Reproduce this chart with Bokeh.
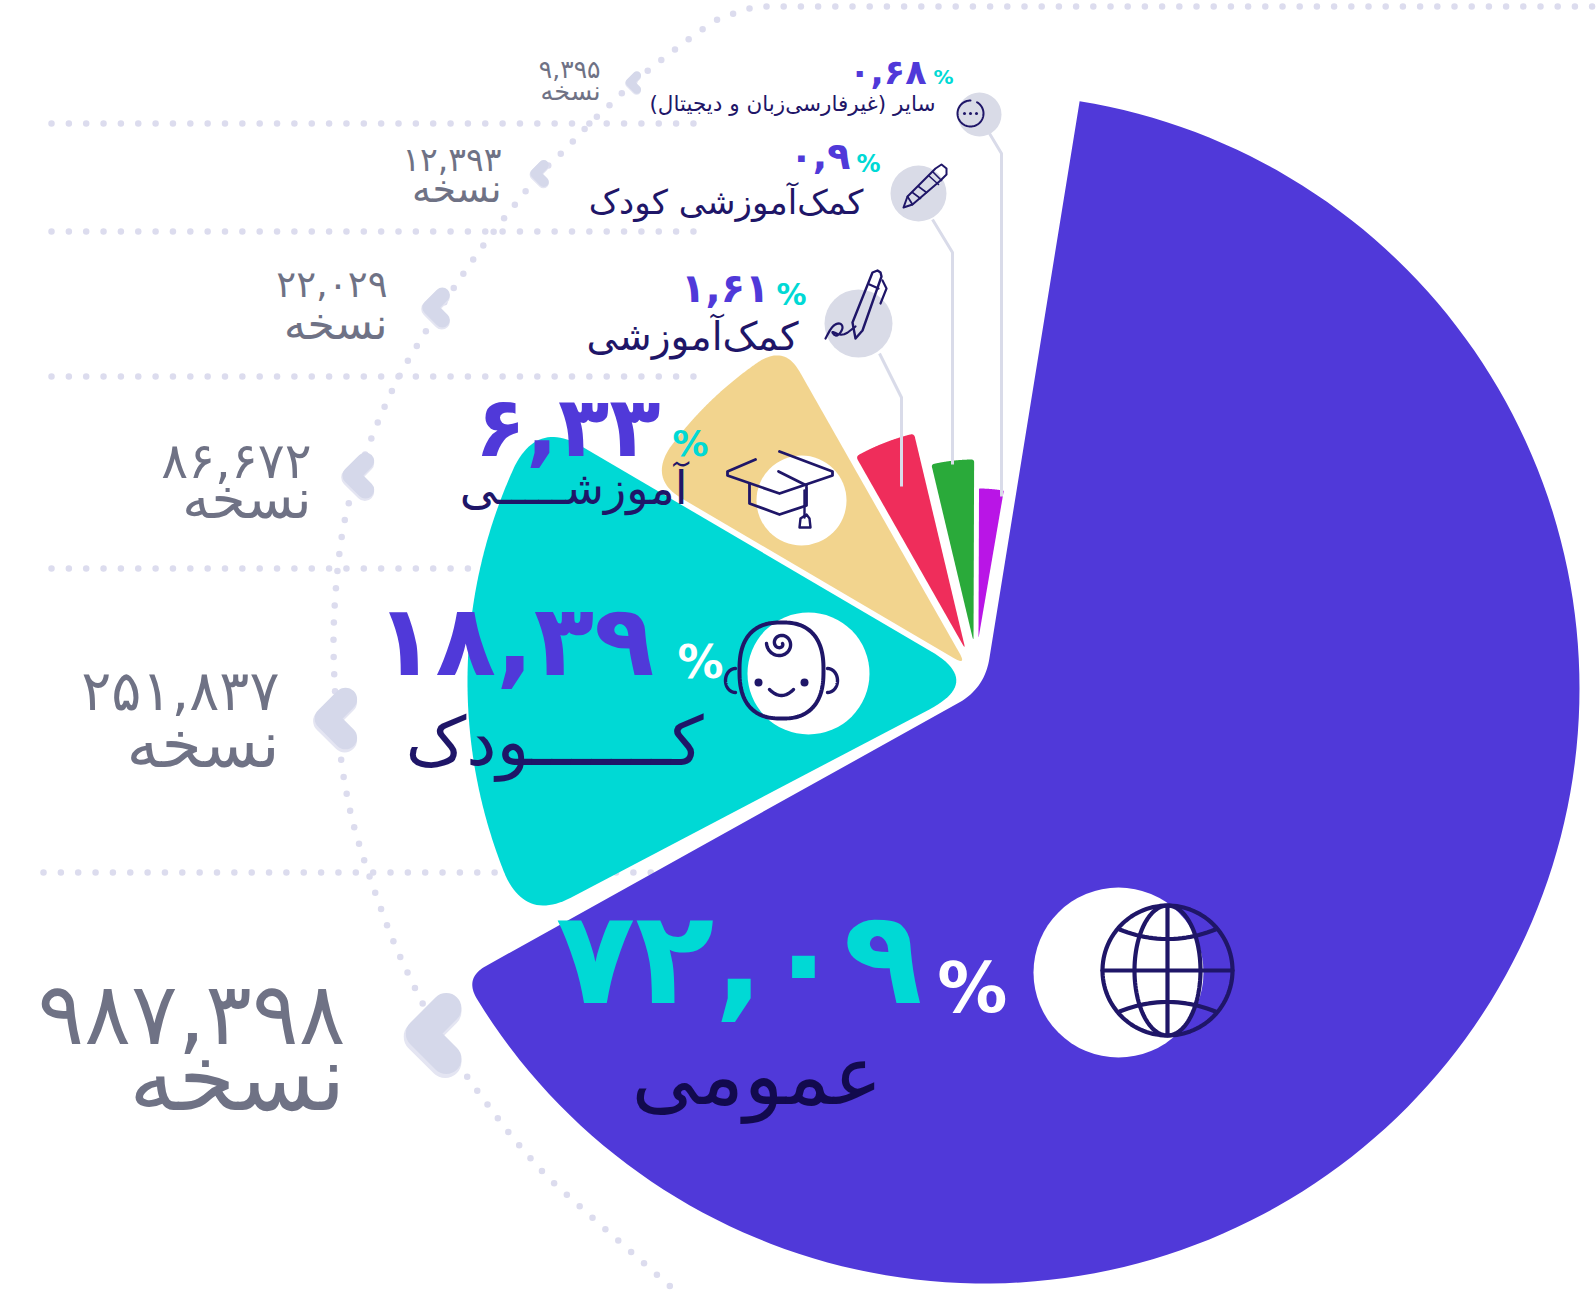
import numpy as np
from bokeh.plotting import figure
from bokeh.embed import file_html
from bokeh.resources import INLINE
from bokeh.core.properties import value

# ---- data ----
categories = ["عمومی", "کـــــــودک", "آموزشـــــی", "کمک\u200cآموزشی", "کمک\u200cآموزشی کودک", "سایر (غیرفارسی\u200cزبان و دیجیتال)\u200f"]
shares = [72.09, 18.39, 6.33, 1.61, 0.9, 0.68]
copies = [987398, 251837, 86672, 22029, 12393, 9395]
slice_colors = ["#5039d9", "#00d9d5", "#f2d48e", "#ef2d5b", "#2aaa3a", "#b915e6"]

# The drawing is not to scale: it widens the small slices. Sweep and radius as read.
sweep_deg = [231.7, 58.1, 30.0, 16.2, 13.6, 9.5]
gap_before_deg = [0, 1.4, 0, 0, 0, 0]
radius_px = [595, 515, 368, 222, 182, 150]
offset_px = [(0, 0), (-2, -7), (-18, -23), (-19, -39), (-11, -47), (-6, -50)]
tip_round = [30, 60, 14, 6, 5, 3]
corner_round = [(0, 24), (50, 50), (38, 30), (4, 4), (3, 3), (1, 1)]
start_deg = 9.2
hub = (984.0, 688.0)

FONT = value("DejaVu Sans")
DOT = "#dcdcee"
CHEV = "#d5d8ea"
CHEV2 = "#e4e5f2"
LINE = "#d9dbe9"
INK = "#1f1668"
GREY = "#6f7285"
PURPLE = slice_colors[0]
TEAL = slice_colors[1]

FA = str.maketrans("0123456789", "۰۱۲۳۴۵۶۷۸۹")
def fa(s):
    return str(s).translate(FA)

p = figure(width=1596, height=1295, x_range=(0, 1596), y_range=(1295, 0),
           toolbar_location=None, output_backend="svg", min_border=0,
           outline_line_color=None,
           background_fill_color="white", border_fill_color="white")
p.axis.visible = False
p.grid.visible = False


def u(a):
    r = np.radians(a)
    return np.array([np.sin(r), -np.cos(r)])

def bez(a, c, b, n=24):
    t = np.linspace(0, 1, n)[:, None]
    return (1 - t) ** 2 * a + 2 * t * (1 - t) * c + t ** 2 * b

def wedge(apex, a0, a1, R, tip, r0, r1):
    A = np.array(apex)
    parts = []
    parts.append(bez(A + tip * u(a1), A, A + tip * u(a0)))
    E0 = A + R * u(a0)
    E1 = A + R * u(a1)
    d0 = np.degrees(r0 / R)
    d1 = np.degrees(r1 / R)
    if r0 > 0:
        parts.append(bez(E0 - r0 * u(a0), E0, A + R * u(a0 + d0)))
    aa = np.linspace(a0 + d0, a1 - d1, 160)
    parts.append(np.array([A + R * u(x) for x in aa]))
    if r1 > 0:
        parts.append(bez(A + R * u(a1 - d1), E1, E1 - r1 * u(a1)))
    return np.vstack(parts)

def chaikin(pts, n=3):
    pts = np.array(pts, float)
    for _ in range(n):
        q = 0.75 * pts[:-1] + 0.25 * pts[1:]
        r = 0.25 * pts[:-1] + 0.75 * pts[1:]
        mid = np.empty((2 * len(q), 2))
        mid[0::2] = q
        mid[1::2] = r
        pts = np.vstack([pts[0], mid, pts[-1]])
    return pts

def resample(pts, step):
    d = np.r_[0, np.cumsum(np.hypot(*np.diff(pts, axis=0).T))]
    s = np.arange(0, d[-1], step)
    return np.interp(s, d, pts[:, 0]), np.interp(s, d, pts[:, 1])


# ---- dotted guides ----
def dots(x, y):
    p.scatter(x, y, size=6.5, marker="circle", fill_color=DOT, line_color=None)

row_y = [123, 231, 376, 568, 872]
row_x = [(51, 701), (51, 701), (51, 701), (51, 480), (43, 655)]
for yy, (x0, x1) in zip(row_y, row_x):
    xs = np.arange(x0, x1, 17.35)
    dots(xs, np.full(len(xs), yy))
xs = np.arange(766, 1596, 17.2)
dots(xs, np.full(len(xs), 6))

guide = [(749, 8), (733, 13), (716, 19), (703, 28), (689, 38), (676, 48), (664, 57), (650, 68),
         (632, 82), (612, 102), (588, 124), (564, 150), (539, 173), (518, 200), (507, 213),
         (470, 262), (435, 315), (392, 385), (356, 475), (341, 529), (333, 611), (333, 672),
         (339, 753), (350, 815), (362, 855), (373, 888), (391, 937), (405, 968), (420, 999),
         (440, 1037), (464, 1073), (495, 1115), (516, 1142), (539, 1168), (551, 1181), (672, 1288)]
gx, gy = resample(chaikin(guide, 2), 17.2)
dots(gx, gy)

# ---- slices ----
angle = start_deg
for i, share in enumerate(shares):
    angle += gap_before_deg[i]
    a0, a1 = angle, angle + sweep_deg[i]
    angle = a1
    apex = np.array(hub) + np.array(offset_px[i])
    shape = wedge(apex, a0, a1, radius_px[i], tip_round[i], *corner_round[i])
    p.patch(shape[:, 0], shape[:, 1], fill_color=slice_colors[i], line_color=None)

# ---- white discs ----
p.ellipse(x=[1118, 808, 801], y=[972, 673, 500], width=[170, 122, 90], height=[170, 122, 90],
          fill_color="white", line_color=None)

# ---- connector lines and grey discs ----
conn = [[(879, 353), (901, 397), (901, 486)],
        [(932, 219), (952, 252), (952, 464)],
        [(989, 133), (1001, 153), (1001, 496)]]
for c in conn:
    c = np.array(c)
    p.line(c[:, 0], c[:, 1], line_color=LINE, line_width=3)
p.ellipse(x=[858, 918, 979], y=[323, 193, 114], width=[68, 56, 44], height=[68, 56, 44],
          fill_color="#d9dbe7", line_color=None)

# ---- chevrons ----
chev = [(430, 1033, 1.05), (333, 718, .8), (356, 475, .6), (434, 307, .52), (538, 173, .35), (632, 82, .29)]
for cx, cy, s in chev:
    w = 29 * s
    ax = cx - 9 * s
    xx = np.array([ax + 24 * s, ax, ax + 24 * s])
    yy = np.array([cy - 24 * s, cy, cy + 24 * s])
    p.line(xx - 1 * s, yy + 3 * s, line_color=CHEV2, line_width=w + 2 * s, line_cap="round", line_join="round")
    p.line(xx, yy, line_color=CHEV, line_width=w, line_cap="round", line_join="round")


# ---- icons ----
def ink(pts, w=3.0, color=INK):
    pts = np.array(pts, float)
    p.line(pts[:, 0], pts[:, 1], line_color=color, line_width=w, line_cap="round", line_join="round")

def ell(cx, cy, a, b, t0=0.0, t1=360.0, n=120):
    t = np.radians(np.linspace(t0, t1, n))
    return np.c_[cx + a * np.cos(t), cy + b * np.sin(t)]

# globe
gcx, gcy, gr = 1167, 970, 65
ink(ell(gcx, gcy, gr, gr), 4.2)
ink(ell(gcx, gcy, 33, gr), 4.2)
ink([(gcx, gcy - gr), (gcx, gcy + gr)], 4.2)
ink([(gcx - gr, gcy), (gcx + gr, gcy)], 4.2)
ink(bez(np.array([gcx - 48., gcy - 41]), np.array([gcx, gcy - 22.]), np.array([gcx + 48., gcy - 41])), 4.2)
ink(bez(np.array([gcx - 48., gcy + 41]), np.array([gcx, gcy + 22.]), np.array([gcx + 48., gcy + 41])), 4.2)

# baby
bcx, bcy = 781, 670
t = np.radians(np.linspace(0, 360, 140))
ink(np.c_[bcx + 42 * np.sign(np.cos(t)) * np.abs(np.cos(t)) ** .8,
          bcy + 48 * np.sign(np.sin(t)) * np.abs(np.sin(t)) ** .8], 4.0)
ink(ell(bcx - 46, bcy + 10, 10, 12, 90, 270), 3.4)
ink(ell(bcx + 46, bcy + 10, 10, 12, -90, 90), 3.4)
p.ellipse(x=[bcx - 23, bcx + 23], y=[bcy + 12, bcy + 12], width=[8, 8], height=[8, 8], fill_color=INK, line_color=None)
ink(bez(np.array([bcx - 12., bcy + 19]), np.array([bcx, bcy + 31.]), np.array([bcx + 12., bcy + 19])), 3.4)
th = np.linspace(0, 3.0 * np.pi, 80)
rr = np.linspace(2, 14, 80)
ink(np.c_[bcx - 1 + rr * np.cos(th), bcy - 27 + rr * np.sin(th)], 3.4)

# graduation cap
ink([(779, 451), (832, 471), (832, 475), (779, 493), (727, 475), (727, 471), (755, 459)], 2.8)
ink([(749, 483), (749, 503), (779, 514), (806, 505), (806, 487)], 2.8)
ink([(778, 471), (806, 485)], 2.8)
ink([(804, 490), (804, 517)], 2.4)
ink([(799, 527), (800, 518), (806, 514), (809, 518), (810, 527), (799, 527)], 2.4)

# pen and signature
ink([(855, 338), (852, 322), (872, 272), (877, 270), (880, 272), (881, 276), (862, 330), (855, 338)], 2.4)
ink([(869, 284), (878, 288)], 2.2)
ink([(882, 280), (886, 288), (880, 303)], 2.2)
ink(chaikin([(825, 338), (832, 325), (840, 322), (843, 328), (836, 337), (830, 330), (842, 336), (855, 326)], 2), 2.2)

# pencil
ink([(903, 207), (907, 196), (935, 168), (941, 164), (946, 168), (946, 174), (940, 180), (912, 204), (903, 207)], 2.0)
ink([(907, 196), (912, 204)], 1.8)
ink([(912, 192), (920, 198)], 1.6)
ink([(918, 186), (926, 192)], 1.6)
ink([(928, 175), (938, 184)], 1.6)
ink([(932, 171), (941, 180)], 1.6)

# more icon
ink(ell(970, 113, 13, 13, -60, 270), 2.0)
p.ellipse(x=[964, 970, 976], y=[113, 113, 113], width=[3, 3, 3], height=[3, 3, 3], fill_color=INK, line_color=None)


# ---- texts ----
def txt(x, y, s, size, color, bold=False, align="right"):
    p.text(x=[x], y=[y], text=[s], text_font=FONT, text_font_size=f"{size}px", text_color=color,
           text_font_style="bold" if bold else "normal", text_align=align, text_baseline="alphabetic")

# copies: number then the word for copies
copy_layout = [(345, 1013, 1078, 87, 92), (279, 690, 744, 56, 65), (311, 460, 498, 50, 55),
               (387, 284, 323, 37, 44), (501, 159, 188, 33, 38), (600, 69, 90, 25, 25.5)]
copy_word = "نسخه"
for n, (x, y1, y2, f1, f2) in zip(copies, copy_layout):
    txt(x, y1, fa(f"{n:,}"), f1, GREY)
    txt(x, y2, copy_word, f2, GREY)

# share values
share_layout = [(922, 957, 130, TEAL), (654, 640, 99, PURPLE), (660, 426, 84, PURPLE),
                (769, 287, 40, PURPLE), (850, 155, 38, PURPLE), (926, 71, 35, PURPLE)]
for v, (x, y, f, c) in zip(shares, share_layout):
    txt(x, y, fa(str(v).replace(".", ",")), f, c, bold=True)

# percent signs
pct_layout = [(1007, 987, 70, "white"), (723, 661, 46, "white"), (708, 443, 36, TEAL),
              (806, 294, 30, TEAL), (880, 163, 24, TEAL), (953, 76, 20, TEAL)]
for x, y, f, c in pct_layout:
    txt(x, y, "%", f, c, bold=True)

# category names
cat_layout = [(882, 1075, 82, "#120a4e"), (703, 741, 68, INK), (687, 487, 46, INK),
              (798, 336, 39, INK), (863, 201, 34, INK), (935, 103, 21.5, INK)]
for s, (x, y, f, c) in zip(categories, cat_layout):
    txt(x, y, s, f, c)

open("out.html", "w").write(file_html(p, INLINE))
